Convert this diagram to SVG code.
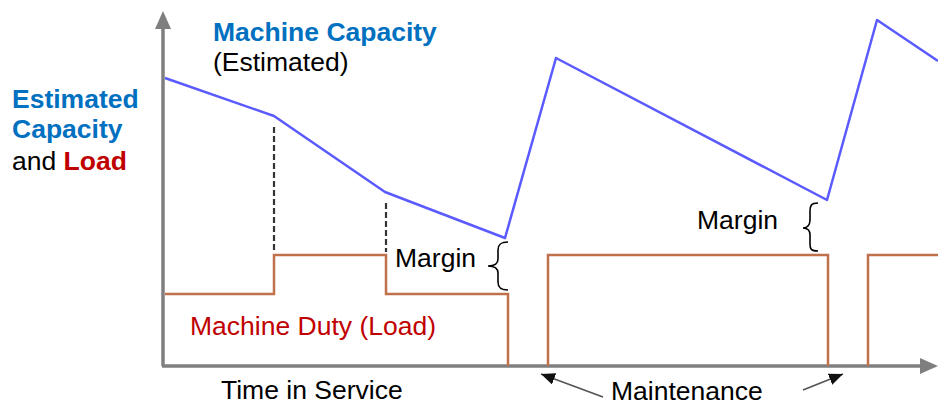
<svg xmlns="http://www.w3.org/2000/svg" width="938" height="405" viewBox="0 0 938 405">
<style>
text{font-family:"Liberation Sans",Arial,sans-serif;font-size:26.5px;fill:#000}
.b{font-weight:bold;fill:#0070c0}
.r{fill:#c00000}
.axis{stroke:#7f7f7f;stroke-width:3.5;fill:none}
.cap{stroke:#5a5aff;stroke-width:2.5;fill:none;stroke-linejoin:round}
.load{stroke:#c0704a;stroke-width:2.5;fill:none}
.dash{stroke:#333;stroke-width:2.2;stroke-dasharray:6 3;fill:none}
.brace{stroke:#000;stroke-width:1.6;fill:none}
.ptr{stroke:#555;stroke-width:1.8;fill:none}
</style>
<defs>
<marker id="ah" markerWidth="14" markerHeight="12" refX="14" refY="6" orient="auto" markerUnits="userSpaceOnUse">
<path d="M0,0 L14,6 L0,12 z" fill="#111"/>
</marker>
</defs>
<g id="axes">
<line class="axis" x1="163" y1="366" x2="163" y2="28"/>
<path d="M163,11 L155,29 L171,29 z" fill="#7f7f7f"/>
<line class="axis" x1="162" y1="366" x2="922" y2="366"/>
<path d="M938,366 L920,358 L920,374 z" fill="#7f7f7f"/>
</g>
<g id="capacity">
<polyline class="cap" points="165,78 274,116 385,192 505,238 556,58 827,200 877,20 938,61"/>
</g>
<g id="load">
<polyline class="load" points="165,294 274,294 274,255 386,255 386,294 508,294 508,366"/>
<polyline class="load" points="548,366 548,255 828,255 828,366"/>
<polyline class="load" points="868,366 868,255 938,255"/>
</g>
<g id="connectors">
<line class="dash" x1="274" y1="127" x2="274" y2="250"/>
<line class="dash" x1="386" y1="203" x2="386" y2="252"/>
<path class="brace" d="M508,242 C500,242 498,245 498,250 L498,259 C498,264 495,266 488,266 C495,266 498,268 498,273 L498,282 C498,287 500,290 508,290"/>
<path class="brace" d="M818,203 C811,203 810,206 810,211 L810,220 C810,225 807,228 803,228 C807,228 810,230 810,235 L810,244 C810,249 811,251 818,251"/>
<line class="ptr" x1="603" y1="397" x2="541" y2="374" marker-end="url(#ah)"/>
<line class="ptr" x1="803" y1="390" x2="843" y2="374" marker-end="url(#ah)"/>
</g>
<g id="labels">
<text class="b" x="213" y="41">Machine Capacity</text>
<text x="213" y="71">(Estimated)</text>
<text class="b" x="12" y="108">Estimated</text>
<text class="b" x="12" y="138">Capacity</text>
<text x="12" y="170">and <tspan style="font-weight:bold;fill:#c00000">Load</tspan></text>
<text x="395" y="267">Margin</text>
<text x="697" y="229">Margin</text>
<text class="r" x="190" y="335">Machine Duty (Load)</text>
<text x="221" y="399">Time in Service</text>
<text x="611" y="400">Maintenance</text>
</g>
</svg>
